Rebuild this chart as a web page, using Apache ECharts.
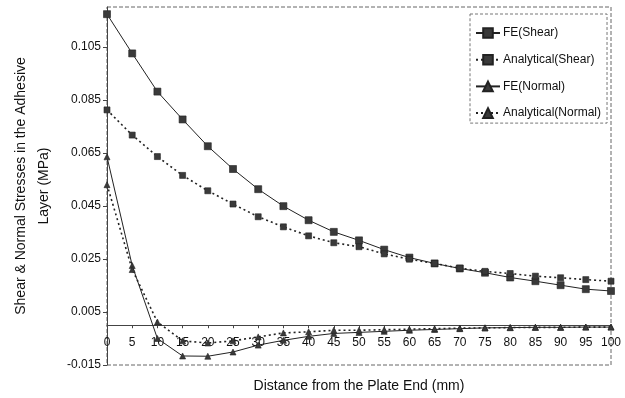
<!DOCTYPE html>
<html>
<head>
<meta charset="utf-8">
<title>Shear & Normal Stresses</title>
<script src="https://cdn.jsdelivr.net/npm/echarts@6/dist/echarts.min.js"></script>
<style>
  html, body { margin: 0; padding: 0; background: #fff; }
  #chart { width: 625px; height: 398px; }
</style>
</head>
<body>
<div id="chart"></div>
<script>
// Distance from the plate end (mm)
const distances = [0, 5, 10, 15, 20, 25, 30, 35, 40, 45, 50, 55, 60, 65, 70, 75, 80, 85, 90, 95, 100];

// Stresses in the adhesive layer (MPa)
const feShear = [0.1173, 0.1025, 0.0881, 0.0776, 0.0675, 0.0589, 0.0513, 0.0449, 0.0396, 0.0352, 0.0320, 0.0285, 0.0255, 0.0233, 0.0214, 0.0198, 0.0180, 0.0166, 0.0151, 0.0136, 0.0129];
const anShear = [0.0812, 0.0717, 0.0636, 0.0565, 0.0507, 0.0457, 0.0409, 0.0371, 0.0337, 0.0311, 0.0296, 0.0269, 0.0249, 0.0233, 0.0215, 0.0203, 0.0195, 0.0185, 0.0179, 0.0172, 0.0166];
const feNormal = [0.0635, 0.0225, -0.0050, -0.0116, -0.0117, -0.0101, -0.0075, -0.0057, -0.0042, -0.0031, -0.0027, -0.0023, -0.0019, -0.0016, -0.0013, -0.0010, -0.0009, -0.0008, -0.0008, -0.0007, -0.0007];
const anNormal = [0.0530, 0.0210, 0.0012, -0.0059, -0.0067, -0.0059, -0.0044, -0.0029, -0.0025, -0.0019, -0.0019, -0.0017, -0.0015, -0.0013, -0.0011, -0.0010, -0.0009, -0.0008, -0.0008, -0.0007, -0.0007];

const seriesNames = ['FE(Shear)', 'Analytical(Shear)', 'FE(Normal)', 'Analytical(Normal)'];

const ink = '#222';
const gridBottom = 33;
const pair = (ys) => distances.map((x, i) => [x, ys[i]]);

function makeSeries(name, ys, symbol, size, dotted) {
  return {
    name: name,
    type: 'line',
    data: pair(ys),
    symbol: symbol,
    symbolSize: size,
    showAllSymbol: true,
    itemStyle: { color: '#3a3a3a', borderColor: ink, borderWidth: 0.6 },
    lineStyle: dotted
      ? { color: ink, width: 1.6, type: [2, 3] }
      : { color: ink, width: 1 },
    emphasis: { disabled: true },
    animation: false
  };
}

const chartEl = document.getElementById('chart');
const chart = echarts.init(chartEl, null, { renderer: 'canvas' });
chart.setOption({
  backgroundColor: '#fff',
  animation: false,
  textStyle: { fontFamily: 'Liberation Sans, Arial, sans-serif', color: '#111' },
  grid: {
    left: 107, right: 14, top: 7, bottom: gridBottom,
    outerBoundsMode: 'none',
    containLabel: false,
    show: true,
    borderColor: '#666',
    borderWidth: 1,
    borderType: [4, 2]
  },
  legend: {
    orient: 'vertical',
    left: 470,
    top: 14,
    width: 133,
    padding: [13, 6, 4, 5],
    itemGap: 14.7,
    itemWidth: 24,
    itemHeight: 12,
    borderColor: '#777',
    borderWidth: 1,
    borderType: [3, 2],
    backgroundColor: '#fff',
    textStyle: { fontSize: 12, color: '#111', fontFamily: 'Liberation Sans, Arial, sans-serif', padding: [0, 0, 0, -2] },
    data: seriesNames
  },
  xAxis: {
    type: 'value',
    min: 0,
    max: 100,
    interval: 5,
    name: 'Distance from the Plate End (mm)',
    nameLocation: 'middle',
    nameGap: 54,
    nameMoveOverlap: false,
    nameTextStyle: { fontSize: 14, color: '#111' },
    axisLine: { onZero: false, lineStyle: { color: '#444', width: 1 } },
    axisTick: { show: true, length: 3, lineStyle: { color: '#444' } },
    axisLabel: { fontSize: 12, color: '#111', margin: 11 },
    splitLine: { show: false }
  },
  yAxis: {
    type: 'value',
    min: -0.015,
    max: 0.12,
    interval: 0.02,
    name: 'Shear & Normal Stresses in the Adhesive\nLayer (MPa)',
    nameLocation: 'middle',
    nameGap: 51,
    nameMoveOverlap: false,
    nameTextStyle: { fontSize: 14, color: '#111', lineHeight: 23 },
    axisLine: { show: true, onZero: false, lineStyle: { color: '#444', width: 1 } },
    axisTick: { show: true, length: 4, lineStyle: { color: '#444' } },
    axisLabel: {
      fontSize: 12,
      color: '#111',
      margin: 6,
      showMaxLabel: false,
      formatter: (v) => v.toFixed(3)
    },
    splitLine: { show: false }
  },
  series: [
    makeSeries(seriesNames[0], feShear, 'rect', 7, false),
    makeSeries(seriesNames[1], anShear, 'rect', 6, true),
    makeSeries(seriesNames[2], feNormal, 'triangle', 6, false),
    makeSeries(seriesNames[3], anNormal, 'triangle', 6, true)
  ]
});

// Lift the distance axis (line, ticks, labels, title) up to the zero-stress level.
const zeroY = chart.convertToPixel({ gridIndex: 0 }, [0, 0])[1];
const plotBottom = chartEl.clientHeight - gridBottom;
chart.setOption({ xAxis: { offset: -(plotBottom - zeroY) } });
</script>
</body>
</html>
